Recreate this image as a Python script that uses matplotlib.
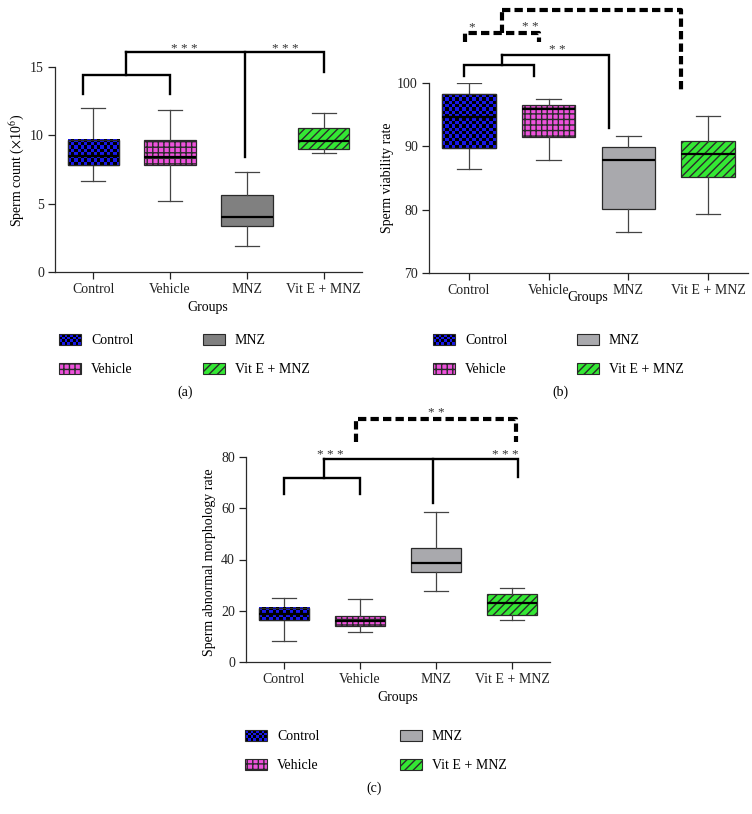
import numpy as np
import matplotlib
matplotlib.use("Agg")
import matplotlib.pyplot as plt
from matplotlib.patches import Rectangle, Patch
from matplotlib.colors import ListedColormap
from matplotlib.legend_handler import HandlerBase

plt.rcParams['font.family'] = ['Liberation Serif', 'DejaVu Serif']
plt.rcParams['mathtext.fontset'] = 'stix'
plt.rcParams['hatch.linewidth'] = 1.0

W, H = 752, 814

groups = ["Control", "Vehicle", "MNZ", "Vit E + MNZ"]

# sperm count (x10^6)
count_lo = [6.66, 5.19, 1.88, 8.69]
count_q1 = [7.80, 7.80, 3.40, 8.98]
count_med = [8.49, 8.39, 4.01, 9.59]
count_q3 = [9.64, 9.64, 5.60, 10.52]
count_hi = [11.99, 11.84, 7.34, 11.67]

# sperm viability rate
viab_lo = [86.5, 87.9, 76.5, 79.3]
viab_q1 = [89.8, 91.4, 80.1, 85.2]
viab_med = [94.7, 95.9, 87.9, 88.8]
viab_q3 = [98.2, 96.6, 89.9, 90.9]
viab_hi = [100.0, 97.4, 91.7, 94.8]

# sperm abnormal morphology rate
morph_lo = [8.3, 11.6, 27.6, 16.5]
morph_q1 = [16.2, 14.2, 35.2, 18.2]
morph_med = [18.8, 16.0, 38.6, 23.1]
morph_q3 = [21.1, 17.85, 44.3, 26.7]
morph_hi = [25.0, 24.6, 58.4, 28.9]

# significance brackets: (xs, ys)
count_solid = [([-0.14, -0.14, 1.0, 1.0], [13.0, 14.4, 14.4, 13.0]),
               ([0.42, 0.42], [14.4, 16.07]),
               ([0.42, 3.0, 3.0], [16.07, 16.07, 14.6]),
               ([1.98, 1.98], [16.07, 8.44])]
count_stars = [(1.18, 15.85, "* * *"), (2.5, 15.85, "* * *")]

viab_solid = [([-0.06, -0.06, 0.82, 0.82], [101.15, 102.84, 102.84, 101.15]),
              ([0.42, 0.42], [102.84, 104.5]),
              ([0.42, 1.76, 1.76], [104.5, 104.5, 92.95])]
viab_dashed = [([-0.05, -0.05, 0.885, 0.885], [106.4, 107.95, 107.95, 106.4]),
               ([0.42, 0.42], [107.95, 111.5]),
               ([0.42, 2.66, 2.66], [111.5, 111.5, 98.6])]
viab_stars = [(1.11, 104.2, "* *"), (0.04, 107.9, "*"), (0.77, 107.9, "* *")]

morph_solid = [([0.0, 0.0, 1.0, 1.0], [65.4, 71.7, 71.7, 65.4]),
               ([0.53, 0.53], [71.7, 79.1]),
               ([0.53, 3.08, 3.08], [79.1, 79.1, 72.1]),
               ([1.96, 1.96], [79.1, 62.2])]
morph_dashed = [([0.95, 0.95, 3.05, 3.05], [86.0, 94.7, 94.7, 86.0])]
morph_stars = [(0.61, 78.6, "* * *"), (2.91, 78.6, "* * *"), (2.0, 94.9, "* *")]

blue = '#1818e8'
pink = '#ee52dc'
green = '#34e834'
edge = '#2a2a2a'

fig = plt.figure(figsize=(W / 100, H / 100), dpi=100)


def fx(px):
    return px / W


def fy(py):
    return 1 - py / H


def make_axes(left, top, right, bottom):
    return fig.add_axes([fx(left), fy(bottom), fx(right) - fx(left), (bottom - top) / H])


def checker(ax, x0, x1, y0, y1, cell=3.3):
    p0 = ax.transData.transform((x0, y0))
    p1 = ax.transData.transform((x1, y1))
    nx = max(1, int(round((p1[0] - p0[0]) / cell)))
    ny = max(1, int(round((p1[1] - p0[1]) / cell)))
    grid = np.indices((ny, nx)).sum(axis=0) % 2
    ax.imshow(grid, cmap=ListedColormap([blue, 'black']), extent=(x0, x1, y0, y1),
              aspect='auto', interpolation='nearest', zorder=2.5)
    ax.add_patch(Rectangle((x0, y0), x1 - x0, y1 - y0, fill=False, ec=edge, lw=0.9, zorder=3))


class CheckerHandler(HandlerBase):
    def create_artists(self, legend, orig_handle, xdescent, ydescent, width, height, fontsize, trans):
        x0, y0 = -xdescent, -ydescent
        arts = [Rectangle((x0, y0), width, height, facecolor=blue, edgecolor='none', transform=trans)]
        nx, ny = 8, 4
        cw, ch = width / nx, height / ny
        for i in range(nx):
            for j in range(ny):
                if (i + j) % 2 == 0:
                    arts.append(Rectangle((x0 + i * cw, y0 + j * ch), cw, ch, facecolor='black',
                                          edgecolor='none', transform=trans))
        arts.append(Rectangle((x0, y0), width, height, fill=False, edgecolor=edge, lw=0.8, transform=trans))
        return arts


def panel(ax, lo, q1, med, q3, hi, ylim, yticks, gray):
    ax.set_xlim(-0.5, 3.5)
    ax.set_ylim(*ylim)
    stats = [dict(whislo=a, q1=b, med=c, q3=d, whishi=e, fliers=[])
             for a, b, c, d, e in zip(lo, q1, med, q3, hi)]
    bp = ax.bxp(stats, positions=range(4), widths=0.67, capwidths=0.31, patch_artist=True,
                showfliers=False,
                boxprops=dict(edgecolor=edge, linewidth=0.9),
                whiskerprops=dict(color='#444444', linewidth=0.9),
                capprops=dict(color='#444444', linewidth=0.9),
                medianprops=dict(color='black', linewidth=1.6, zorder=4))
    fills = [blue, pink, gray, green]
    hatches = [None, '+++', None, '////']
    for box, fc, h in zip(bp['boxes'], fills, hatches):
        box.set_facecolor(fc)
        if h:
            box.set_hatch(h)
    checker(ax, -0.335, 0.335, q1[0], q3[0])
    ax.set_xlim(-0.5, 3.5)
    ax.set_ylim(*ylim)
    ax.set_xticks(range(4))
    ax.set_xticklabels(groups)
    ax.set_yticks(yticks)
    for s in ['top', 'right']:
        ax.spines[s].set_visible(False)
    for s in ['left', 'bottom']:
        ax.spines[s].set_color(edge)
        ax.spines[s].set_linewidth(0.9)
    ax.tick_params(direction='out', length=5, width=0.9, labelsize=10, pad=3, colors='#222222')
    return fills, hatches


def brackets(ax, solid, dashed, stars):
    for xs, ys in solid:
        ax.plot(xs, ys, color='black', lw=1.7, clip_on=False, solid_joinstyle='miter', zorder=5)
    for xs, ys in dashed:
        ax.plot(xs, ys, color='black', lw=3.0, ls=(0, (2, 1)), clip_on=False, zorder=5)
    for x, y, s in stars:
        ax.text(x, y, s, ha='center', va='bottom', fontsize=9.5, color='#333333', clip_on=False)


def legend(fills, hatches, left, top, colsp):
    handles = [Patch(facecolor=fc, edgecolor=edge, hatch=h, lw=0.8) for fc, h in zip(fills, hatches)]
    fig.legend(handles, groups, ncol=2, loc='upper left', bbox_to_anchor=(fx(left), fy(top)),
               frameon=False, fontsize=10, handlelength=1.6, handleheight=0.8, handletextpad=0.7,
               columnspacing=colsp, labelspacing=1.15, borderpad=0, borderaxespad=0,
               handler_map={handles[0]: CheckerHandler()})


# (a) sperm count
ax1 = make_axes(55, 67, 362, 272)
f, h = panel(ax1, count_lo, count_q1, count_med, count_q3, count_hi, (0, 15), [0, 5, 10, 15], '#808080')
brackets(ax1, count_solid, [], count_stars)
fig.text(fx(17), fy(170), r"Sperm count ($\times$10$^{6}$)", rotation=90, ha='center', va='center', fontsize=10)
fig.text(fx(208), fy(308), "Groups", ha='center', va='center', fontsize=10)
legend(f, h, 59, 334, 5.0)
fig.text(fx(185), fy(392), "(a)", ha='center', va='center', fontsize=10)

# (b) sperm viability
ax2 = make_axes(429, 83, 748, 273)
f, h = panel(ax2, viab_lo, viab_q1, viab_med, viab_q3, viab_hi, (70, 100), [70, 80, 90, 100], '#a9a9ad')
brackets(ax2, viab_solid, viab_dashed, viab_stars)
fig.text(fx(388), fy(178), "Sperm viability rate", rotation=90, ha='center', va='center', fontsize=10)
fig.text(fx(588), fy(297), "Groups", ha='center', va='center', fontsize=10)
legend(f, h, 433, 334, 5.0)
fig.text(fx(560), fy(392), "(b)", ha='center', va='center', fontsize=10)

# (c) abnormal morphology
ax3 = make_axes(246, 457, 550, 662)
f, h = panel(ax3, morph_lo, morph_q1, morph_med, morph_q3, morph_hi, (0, 80), [0, 20, 40, 60, 80], '#a9a9ad')
brackets(ax3, morph_solid, morph_dashed, morph_stars)
fig.text(fx(209), fy(562), "Sperm abnormal morphology rate", rotation=90, ha='center', va='center', fontsize=10)
fig.text(fx(398), fy(697), "Groups", ha='center', va='center', fontsize=10)
legend(f, h, 245, 730, 5.8)
fig.text(fx(374), fy(788), "(c)", ha='center', va='center', fontsize=10)

fig.savefig("out.png", dpi=100)
